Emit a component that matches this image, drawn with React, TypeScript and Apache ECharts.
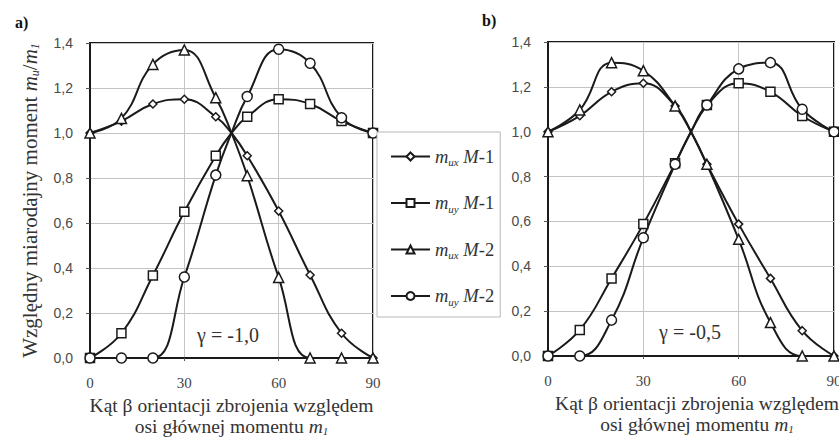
import React, { useEffect, useRef } from "react";
import * as echarts from "echarts";

const betas = [0, 10, 20, 30, 40, 45, 50, 60, 70, 80, 90];
const xTicks = [0, 30, 60, 90];

// chart a) gamma = -1,0
const muxM1A = [1.0, 1.053, 1.129, 1.15, 1.072, 1.0, 0.899, 0.653, 0.369, 0.11, 0.0];
const muyM1A = [0.0, 0.11, 0.367, 0.65, 0.899, 1.0, 1.072, 1.15, 1.129, 1.053, 1.0];
const muxM2A = [1.0, 1.065, 1.305, 1.369, 1.157, 1.0, 0.81, 0.358, 0.0, 0.0, 0.0];
const muyM2A = [0.0, 0.0, 0.0, 0.36, 0.813, 1.0, 1.162, 1.372, 1.31, 1.068, 1.0];

// chart b) gamma = -0,5
const muxM1B = [1.0, 1.071, 1.178, 1.216, 1.115, 1.0, 0.855, 0.588, 0.346, 0.113, 0.0];
const muyM1B = [0.0, 0.116, 0.346, 0.588, 0.859, 1.0, 1.119, 1.216, 1.178, 1.07, 1.0];
const muxM2B = [1.0, 1.097, 1.308, 1.272, 1.115, 1.0, 0.855, 0.52, 0.149, 0.0, 0.0];
const muyM2B = [0.0, 0.0, 0.16, 0.527, 0.855, 1.0, 1.119, 1.28, 1.308, 1.1, 1.0];

const seriesNames = ["mux M-1", "muy M-1", "mux M-2", "muy M-2"];
const legendLabels: Record<string, string> = {
  "mux M-1": "{i|m}{s|ux} {i|M}{t|-1}",
  "muy M-1": "{i|m}{s|uy} {i|M}{t|-1}",
  "mux M-2": "{i|m}{s|ux} {i|M}{t|-2}",
  "muy M-2": "{i|m}{s|uy} {i|M}{t|-2}",
};
const symbols = ["diamond", "rect", "triangle", "circle"];
const symbolSizes = [8, 9, 10, 10];

const SERIF = "'Liberation Serif', 'DejaVu Serif', serif";
const SANS = "'Liberation Sans', Arial, sans-serif";
const INK = "#1a1a1a";

const richSet = (size: number, lh: number) => ({
  t: { fontFamily: SERIF, fontSize: size, color: "#333", lineHeight: lh },
  i: { fontFamily: SERIF, fontSize: size, fontStyle: "italic", color: "#333", lineHeight: lh },
  s: { fontFamily: SERIF, fontSize: Math.round(size * 0.58), fontStyle: "italic", color: "#333", verticalAlign: "bottom", lineHeight: lh - 2 },
});

function buildData(vals: number[]) {
  return betas.map((b, i) =>
    b === 45 ? { value: [b, vals[i]], symbol: "none" } : [b, vals[i]]
  );
}

function makeSeries(sets: number[][], gridIdx: number) {
  return sets.map((vals, k) => ({
    name: seriesNames[k],
    type: "line",
    xAxisIndex: gridIdx,
    yAxisIndex: gridIdx,
    smooth: 0.45,
    symbol: symbols[k],
    symbolSize: symbolSizes[k],
    showAllSymbol: true,
    lineStyle: { color: INK, width: 2 },
    itemStyle: { color: "#fff", borderColor: INK, borderWidth: 1.5 },
    data: buildData(vals),
    z: 3,
  }));
}

function xAxis(gridIndex: number, shift: number) {
  return {
    type: "value",
    gridIndex,
    min: 0,
    max: 90,
    interval: 30,
    axisLine: { show: true, lineStyle: { color: INK, width: 2 } },
    axisTick: { show: true, length: 3, lineStyle: { color: "#555" } },
    axisLabel: {
      fontFamily: SERIF,
      fontSize: 15,
      color: "#444",
      margin: 17,
      formatter: (v: number) => (xTicks.includes(v) ? String(v) : ""),
    },
    splitLine: { show: true, lineStyle: { color: "#c4c4c4", width: 1 } },
    name: "{t|Kąt β orientacji zbrojenia względem}\n{t|osi głównej momentu }{i|m}{s|1}",
    nameLocation: "middle",
    nameGap: 34,
    nameTextStyle: {
      fontFamily: SERIF,
      fontSize: 19.5,
      color: "#333",
      lineHeight: 21,
      padding: [0, 0, 0, shift],
      rich: richSet(19.5, 21),
    },
  };
}

function yAxis(gridIndex: number, withName: boolean) {
  return {
    type: "value",
    gridIndex,
    min: 0,
    max: 1.4,
    interval: 0.2,
    axisLine: { show: true, lineStyle: { color: INK, width: 2 } },
    axisTick: { show: true, length: 4, lineStyle: { color: "#555" } },
    axisLabel: {
      fontFamily: SANS,
      fontSize: 14,
      color: "#4a4a4a",
      margin: 17,
      formatter: (v: number) => v.toFixed(1).replace(".", ","),
    },
    splitLine: { show: true, lineStyle: { color: "#c4c4c4", width: 1 } },
    name: withName ? "{t|Względny miarodajny moment }{i|m}{s|u}{t|/}{i|m}{s|1}" : "",
    nameLocation: "middle",
    nameRotate: 90,
    nameGap: 49,
    nameTextStyle: { fontFamily: SERIF, fontSize: 21, color: "#333", rich: richSet(21, 23) },
  };
}

export default function App() {
  const ref = useRef<HTMLDivElement>(null);
  useEffect(() => {
    if (!ref.current) return;
    const chart = echarts.init(ref.current, null, { renderer: "svg" });
    chart.setOption({
      animation: false,
      backgroundColor: "#fff",
      grid: [
        { left: 90, top: 43, width: 283, height: 315, show: true, borderColor: INK, borderWidth: 2, backgroundColor: "transparent", outerBoundsMode: "none", containLabel: false },
        { left: 548, top: 42, width: 286, height: 314, show: true, borderColor: INK, borderWidth: 2, backgroundColor: "transparent", outerBoundsMode: "none", containLabel: false },
      ],
      xAxis: [xAxis(0, 0), xAxis(1, 12)],
      yAxis: [yAxis(0, true), yAxis(1, false)],
      legend: {
        orient: "vertical",
        left: 377,
        top: 132,
        width: 131,
        height: 192,
        padding: [15, 6, 10, 13],
        itemGap: 26,
        itemWidth: 39,
        itemHeight: 10,
        backgroundColor: "#fff",
        borderColor: "#b8b8b8",
        borderWidth: 1,
        data: seriesNames,
        formatter: (name: string) => legendLabels[name],
        textStyle: { fontFamily: SERIF, fontSize: 18.5, color: "#333", rich: richSet(18.5, 22) },
        z: 10,
      },
      graphic: [
        { type: "text", left: 15, top: 14, style: { text: "a)", font: `bold 16px ${SERIF}`, fill: "#111" } },
        { type: "text", left: 482, top: 12, style: { text: "b)", font: `bold 16px ${SERIF}`, fill: "#111" } },
        { type: "text", x: 228, y: 335, style: { text: "γ = -1,0", font: `20px ${SERIF}`, fill: "#333", align: "center", verticalAlign: "middle" }, z: 5 },
        { type: "text", x: 690, y: 332, style: { text: "γ = -0,5", font: `20px ${SERIF}`, fill: "#333", align: "center", verticalAlign: "middle" }, z: 5 },
      ],
      series: [
        ...makeSeries([muxM1A, muyM1A, muxM2A, muyM2A], 0),
        ...makeSeries([muxM1B, muyM1B, muxM2B, muyM2B], 1),
      ],
    });
    return () => chart.dispose();
  }, []);
  return (
    <div
      ref={ref}
      style={{ position: "absolute", left: 0, top: 0, width: 839, height: 438 }}
    />
  );
}
